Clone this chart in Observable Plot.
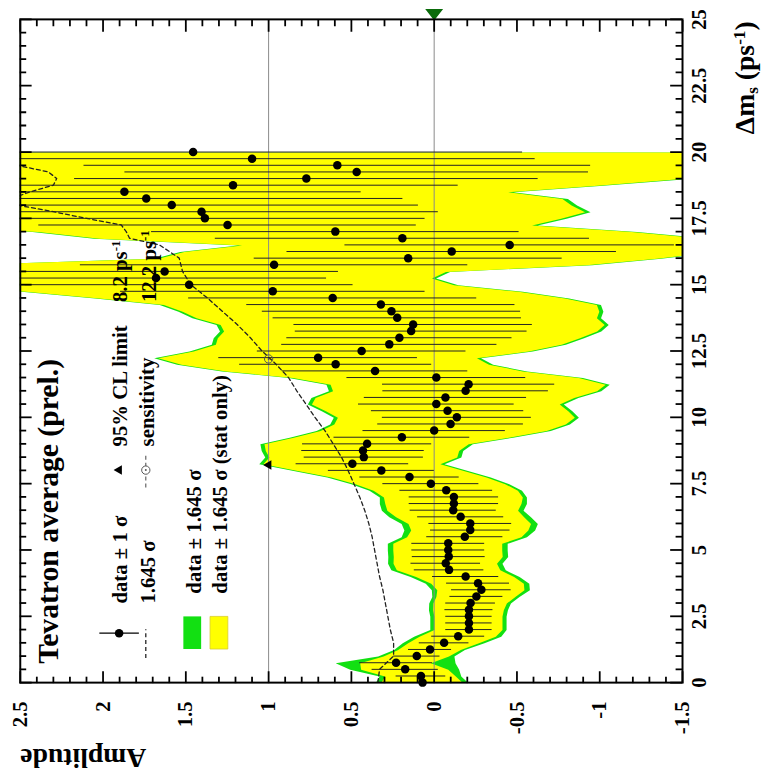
<!DOCTYPE html>
<html><head><meta charset="utf-8">
<script src="https://cdn.jsdelivr.net/npm/d3@7"></script>
<script src="https://cdn.jsdelivr.net/npm/@observablehq/plot@0.6"></script>
<style>
html,body{margin:0;padding:0;background:#fff;}
#wrap{position:relative;width:770px;height:779px;overflow:hidden;background:#fff;}
#wrap svg{position:absolute;left:0;top:0;transform-origin:0 0;transform:translate(0px,779px) rotate(-90deg);}
</style></head><body><div id="wrap"></div>
<script>
// ---- data ----
const dms = [0,0.25,0.5,0.75,1,1.25,1.5,1.75,2,2.25,2.5,2.75,3,3.25,3.5,3.75,4,4.25,4.5,4.75,5,5.25,5.5,5.75,6,6.25,6.5,6.75,7,7.25,7.5,7.75,8,8.25,8.5,8.75,9,9.25,9.5,9.75,10,10.25,10.5,10.75,11,11.25,11.5,11.75,12,12.25,12.5,12.75,13,13.25,13.5,13.75,14,14.25,14.5,14.75,15,15.25,15.5,15.75,16,16.25,16.5,16.75,17,17.25,17.5,17.75,18,18.25,18.5,18.75,19,19.25,19.5,19.75,20];
const amp = [0.07,0.08,0.175,0.23,0.105,0.025,-0.06,-0.145,-0.21,-0.21,-0.21,-0.21,-0.22,-0.255,-0.285,-0.265,-0.19,-0.09,-0.07,-0.088,-0.085,-0.085,-0.185,-0.218,-0.218,-0.16,-0.115,-0.119,-0.119,-0.073,0.02,0.149,0.319,0.494,0.425,0.43,0.405,0.195,0.0,-0.099,-0.137,-0.081,-0.013,-0.068,-0.19,-0.208,-0.013,0.357,0.595,0.701,0.438,0.271,0.21,0.139,0.127,0.223,0.258,0.322,0.613,0.975,1.48,1.68,1.628,0.967,0.157,-0.106,-0.456,0.192,0.597,1.248,1.385,1.405,1.585,1.739,1.871,1.215,0.772,0.468,0.585,1.10,1.456];
const sigTot = [0.17,0.15,0.20,0.22,0.14,0.13,0.15,0.16,0.14,0.14,0.14,0.145,0.15,0.16,0.18,0.19,0.20,0.21,0.21,0.22,0.22,0.22,0.23,0.24,0.25,0.26,0.26,0.27,0.27,0.28,0.29,0.30,0.32,0.34,0.36,0.37,0.39,0.41,0.43,0.44,0.45,0.46,0.47,0.49,0.50,0.52,0.54,0.56,0.58,0.60,0.63,0.65,0.68,0.70,0.72,0.75,0.78,0.81,0.87,0.92,0.99,1.03,1.05,1.17,0.93,0.995,0.995,1.13,1.11,1.14,1.33,1.43,1.49,1.55,1.43,1.36,1.40,1.40,1.53,1.71,1.99];
const sigStat = [0.15,0.13,0.16,0.13,0.12,0.115,0.13,0.14,0.125,0.125,0.125,0.13,0.135,0.145,0.16,0.17,0.18,0.19,0.19,0.20,0.20,0.20,0.21,0.215,0.225,0.235,0.24,0.25,0.255,0.265,0.275,0.285,0.305,0.325,0.345,0.355,0.375,0.395,0.415,0.425,0.435,0.445,0.455,0.475,0.485,0.505,0.525,0.545,0.565,0.585,0.615,0.635,0.665,0.685,0.705,0.735,0.765,0.795,0.855,0.905,0.975,1.015,1.035,1.15,0.915,0.98,0.98,1.11,1.09,1.12,1.31,1.41,1.47,1.53,1.41,1.34,1.38,1.38,1.51,1.69,1.97];
// 1.645 sigma sensitivity curve (dashed)
const sensDm  = [0,0.5,1,1.5,2,2.5,3,3.5,4,4.5,5,5.5,6,6.5,7,7.5,8,8.5,9,9.5,10,10.5,11,11.5,12,12.5,13,13.5,14,14.5,15,15.5,16,16.5,16.75,17,17.25,17.5,17.75,18,18.25,18.5,18.75,19,19.25,19.5,20];
const sensAmp = [0.34,0.33,0.245,0.245,0.265,0.28,0.295,0.31,0.33,0.345,0.36,0.375,0.395,0.42,0.45,0.485,0.52,0.56,0.61,0.66,0.72,0.775,0.83,0.88,0.955,1.04,1.11,1.19,1.28,1.37,1.47,1.52,1.54,1.66,1.84,1.86,1.89,2.1,2.3,2.52,2.55,2.44,2.30,2.28,2.33,2.52,2.85];
const limitDm = [8.2], limitAmp = [1];          // 95% CL limit
const sensPtDm = [12.2], sensPtAmp = [1];       // sensitivity
const measDm = [25], measAmp = [0];             // green marker on the frame
const refLines = [0, 1];
const xTicks = [0,2.5,5,7.5,10,12.5,15,17.5,20,22.5,25];
const xTickLabels = ["0","2.5","5","7.5","10","12.5","15","17.5","20","22.5","25"];
const yTicks = [-1.5,-1,-0.5,0,0.5,1,1.5,2,2.5];
const yTickLabels = ["-1.5","-1","-0.5","0","0.5","1","1.5","2","2.5"];
const titleText = "Tevatron average (prel.)";
const xLabel = "Δm_{s} (ps^{-1})";
const yLabel = "Amplitude";
const legendLabels = ["data ± 1 σ","1.645 σ","data ± 1.645 σ","data ± 1.645 σ (stat only)","95% CL limit","sensitivity","8.2 ps^{-1}","12.2 ps^{-1}"];

// ---- build ----
const pts = dms.map((x,i)=>({x, a: amp[i], st: sigTot[i], ss: sigStat[i]}));
const sens = sensDm.map((x,i)=>({x, y: sensAmp[i]}));
const X0 = 0, X1 = 25, Y0 = -1.5, Y1 = 2.5;
const xMinor = d3.range(0, 25.001, 0.5).filter(v => Math.abs(v/2.5 - Math.round(v/2.5)) > 1e-6);
const yMinor = d3.range(-1.5, 2.5001, 0.1).map(v=>+v.toFixed(2)).filter(v => Math.abs(v/0.5 - Math.round(v/0.5)) > 1e-6);

const W = 779, H = 770, ML = 97, MR = 11, MT = 20, MB = 80;
const FW = W - ML - MR, FH = H - MT - MB;
const PXX = (X1 - X0) / FW, PXY = (Y1 - Y0) / FH;   // data units per pixel
const FONT = "'Liberation Serif','Times New Roman',Times,serif";
const GREEN = "#12e012", YELLOW = "#ffff00";
const tri = {draw(c,l){c.moveTo(0,0);c.lineTo(-8.5,-l);c.lineTo(8.5,-l);c.closePath();}};
const rectSym = {draw(c){c.rect(-16.5,-9,33,18);}};
const vbar = {draw(c){c.moveTo(0,-20);c.lineTo(0,20);}};
const hline29 = {draw(c){c.moveTo(-14.5,0);c.lineTo(14.5,0);}};
const hline35 = {draw(c){c.moveTo(-17.5,0);c.lineTo(17.5,0);}};
const TK = {stroke: "black", strokeWidth: 1.8};
const LT = {frameAnchor: "top-left", fontFamily: FONT, fontWeight: "bold", fontSize: 21, textAnchor: "start", lineAnchor: "bottom", fill: "black"};
// inward tick marks on all four sides (lengths in pixels converted to data units)
const xTickRules = (vals, len) => [
  Plot.ruleX(vals, {x: d => d, y1: d => Y0, y2: d => Y0 + len*PXY, ...TK}),
  Plot.ruleX(vals, {x: d => d, y1: d => Y1, y2: d => Y1 - len*PXY, ...TK})];
const yTickRules = (vals, len) => [
  Plot.ruleY(vals, {y: d => d, x1: d => X0, x2: d => X0 + len*PXX, ...TK}),
  Plot.ruleY(vals, {y: d => d, x1: d => X1, x2: d => X1 - len*PXX, ...TK})];

const svg = Plot.plot({
  width: W, height: H,
  marginLeft: ML, marginRight: MR, marginTop: MT, marginBottom: MB,
  style: {background: "white", fontFamily: FONT},
  x: {domain: [X0, X1], axis: null},
  y: {domain: [Y0, Y1], axis: null},
  marks: [
    Plot.areaY(pts, {x: "x", y1: d => d.a - 1.645*d.st, y2: d => d.a + 1.645*d.st, fill: GREEN, clip: true}),
    Plot.areaY(pts, {x: "x", y1: d => d.a - 1.645*d.ss, y2: d => d.a + 1.645*d.ss, fill: YELLOW, clip: true}),
    Plot.ruleY(refLines, {stroke: "#8a8a8a", strokeWidth: 1}),
    Plot.ruleX(pts, {x: "x", y1: d => d.a - d.st, y2: d => d.a + d.st, stroke: "#222", strokeWidth: 1, clip: true}),
    Plot.line(sens, {x: "x", y: "y", stroke: "#222", strokeWidth: 1.3, strokeDasharray: "4,3", clip: true}),
    Plot.dot(pts, {x: "x", y: "a", r: 4.3, fill: "black"}),
    Plot.dot(limitDm, {x: d => d, y: (d,i) => limitAmp[i], symbol: "triangle2", r: 4.6, fill: "black"}),
    Plot.dot(sensPtDm, {x: d => d, y: (d,i) => sensPtAmp[i], r: 4.2, fill: "none", stroke: "#555", strokeWidth: 1}),
    Plot.dot(sensPtDm, {x: d => d, y: (d,i) => sensPtAmp[i], r: 1, fill: "#555"}),
    Plot.vector(measDm, {x: d => d, y: (d,i) => measAmp[i], length: 11, rotate: 90, anchor: "start", shape: tri, fill: "#0b6b0b", stroke: "#0b6b0b"}),
    Plot.frame({stroke: "black", strokeWidth: 2}),
    ...xTickRules(xTicks, 12), ...xTickRules(xMinor, 6.5),
    ...yTickRules(yTicks, 12), ...yTickRules(yMinor, 6.5),
    Plot.text(xTicks, {x: d => d, frameAnchor: "bottom", dy: 17, lineAnchor: "middle", text: (d,i) => xTickLabels[i], fontFamily: FONT, fontWeight: "bold", fontSize: 21}),
    Plot.text(yTicks, {y: d => d, frameAnchor: "left", dx: -19, textAnchor: "end", lineAnchor: "middle", text: (d,i) => yTickLabels[i], fontFamily: FONT, fontWeight: "bold", fontSize: 21}),
    Plot.text([xLabel], {frameAnchor: "bottom-right", dx: -2, dy: 72, textAnchor: "end", lineAnchor: "bottom", text: d => d, fontFamily: FONT, fontWeight: "bold", fontSize: 28}),
    Plot.text([yLabel], {frameAnchor: "top-left", dx: -76, dy: 0, rotate: -90, textAnchor: "end", lineAnchor: "middle", text: d => d, fontFamily: FONT, fontWeight: "bold", fontSize: 28}),
    Plot.text([titleText], {...LT, dx: 19, dy: 38, fontSize: 30, text: d => d}),
    // legend markers
    Plot.dot([0], {frameAnchor: "top-left", dx: 50, dy: 100, symbol: vbar, fill: "none", stroke: "black", strokeWidth: 1.3}),
    Plot.dot([0], {frameAnchor: "top-left", dx: 50, dy: 100, r: 4.3, fill: "black"}),
    Plot.dot([0], {frameAnchor: "top-left", dx: 39.5, dy: 127, symbol: hline29, fill: "none", stroke: "#222", strokeWidth: 1.3, strokeDasharray: "4,3"}),
    Plot.dot([0], {frameAnchor: "top-left", dx: 50.5, dy: 174, symbol: rectSym, fill: GREEN, stroke: "none"}),
    Plot.dot([0], {frameAnchor: "top-left", dx: 50.5, dy: 201, symbol: rectSym, fill: YELLOW, stroke: "#d8cc30", strokeWidth: 0.8}),
    Plot.dot([0], {frameAnchor: "top-left", dx: 215, dy: 100, symbol: "triangle2", r: 4.6, fill: "black"}),
    Plot.dot([0], {frameAnchor: "top-left", dx: 215, dy: 127, symbol: hline35, fill: "none", stroke: "#555", strokeWidth: 1.1, strokeDasharray: "4,3"}),
    Plot.dot([0], {frameAnchor: "top-left", dx: 215, dy: 127, r: 4.2, fill: "white", stroke: "#555", strokeWidth: 1}),
    Plot.dot([0], {frameAnchor: "top-left", dx: 215, dy: 127, r: 1, fill: "#555"}),
    // legend texts
    Plot.text([legendLabels[0]], {...LT, dx: 80, dy: 108, text: d => d}),
    Plot.text([legendLabels[1]], {...LT, dx: 80, dy: 136, text: d => d}),
    Plot.text([legendLabels[2]], {...LT, dx: 90, dy: 183, text: d => d}),
    Plot.text([legendLabels[3]], {...LT, dx: 90, dy: 209, text: d => d}),
    Plot.text([legendLabels[4]], {...LT, dx: 239, dy: 108, text: d => d}),
    Plot.text([legendLabels[5]], {...LT, dx: 239, dy: 135, text: d => d}),
    Plot.text([legendLabels[6]], {...LT, dx: 385, dy: 108, text: d => d}),
    Plot.text([legendLabels[7]], {...LT, dx: 385, dy: 137, text: d => d})
  ]
});

// rich text: _{sub} and ^{sup}
d3.select(svg).selectAll("text").each(function() {
  const t = this.textContent;
  if (!/[_^]\{/.test(t)) return;
  const sel = d3.select(this); sel.text(null);
  const re = /([_^])\{([^}]*)\}/g; let last = 0, m;
  while ((m = re.exec(t))) {
    if (m.index > last) sel.append("tspan").text(t.slice(last, m.index));
    sel.append("tspan").attr("baseline-shift", m[1] === "^" ? "55%" : "-25%").attr("font-size", "62%").text(m[2]);
    last = re.lastIndex;
  }
  if (last < t.length) sel.append("tspan").text(t.slice(last));
});

document.getElementById("wrap").appendChild(svg);
</script></body></html>
